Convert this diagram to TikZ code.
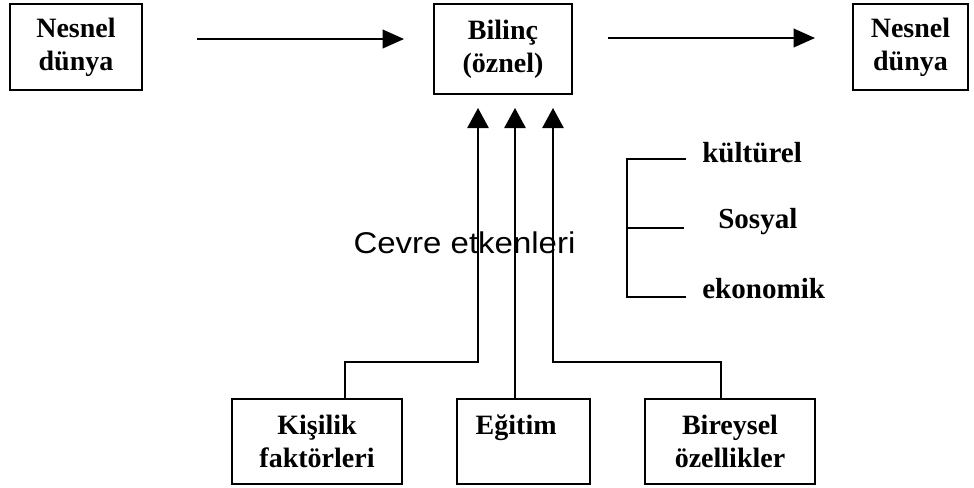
\documentclass[tikz,border=0pt]{standalone}
\usepackage{fontspec}
\setmainfont{Liberation Serif}
\newfontfamily\sansf{Liberation Sans}
\usetikzlibrary{arrows.meta}
\begin{document}
\begin{tikzpicture}[x=0.75pt,y=-0.75pt,
  box/.style={draw,line width=1.2pt,inner sep=0pt,align=center,
    font=\fontsize{21}{25}\selectfont\bfseries},
  lbl/.style={inner sep=0pt,font=\fontsize{21.8}{26}\selectfont\bfseries},
  ln/.style={line width=1.2pt},
  harr/.style={ln,-{Triangle[length=16pt,width=14pt]}},
  varr/.style={ln,-{Triangle[length=15pt,width=16pt]}}]
\useasboundingbox (0,0) rectangle (974,487);
% top boxes
\node[box,minimum width=132*0.75pt,minimum height=86*0.75pt] (L) at (76,47) {Nesnel\\dünya};
\node[box,minimum width=138*0.75pt,minimum height=90*0.75pt] (B) at (503,49) {Bilinç\\(öznel)};
\node[box,minimum width=115*0.75pt,minimum height=86*0.75pt] (R) at (910.5,47) {Nesnel\\dünya};
% bottom boxes
\node[box,minimum width=170*0.75pt,minimum height=85*0.75pt] (K) at (317,441.5) {Kişilik\\faktörleri};
\node[box,minimum width=133*0.75pt,minimum height=85*0.75pt] (E) at (523.5,441.5) {Eğitim\kern11pt\\\phantom{faktörleri}};
\node[box,minimum width=170*0.75pt,minimum height=85*0.75pt] (Bi) at (730,441.5) {Bireysel\\özellikler};
% horizontal arrows
\coordinate (a1s) at (197,39);
\coordinate (a1e) at (404,39);
\coordinate (a2s) at (608,38);
\coordinate (a2e) at (815,38);
\draw[harr] (a1s) -- (a1e);
\draw[harr] (a2s) -- (a2e);
% vertical arrows
\coordinate (t1) at (478,108);
\coordinate (t2) at (515,108);
\coordinate (t3) at (553,108);
\draw[varr] ([xshift=21pt]K.north) -- ++(0,-36) -| (t1);
\draw[varr] (E.north -| t2) -- (t2);
\draw[varr] ([xshift=-6.75pt]Bi.north) -- ++(0,-36) -| (t3);
% text
\node[inner sep=0pt,anchor=base,font=\sansf\fontsize{22.5}{27}\selectfont,xscale=1.1] (C) at (464.5,253) {Cevre etkenleri};
% bracket
\coordinate (b1) at (686,159);
\coordinate (b2) at (627,159);
\coordinate (b3) at (627,297);
\coordinate (b4) at (686,297);
\coordinate (b5) at (627,228);
\coordinate (b6) at (684,228);
\draw[ln] (b1) -- (b2) -- (b3) -- (b4);
\draw[ln] (b5) -- (b6);
\node[lbl,anchor=base west] (k) at (702,162) {kültürel};
\node[lbl,anchor=base west] (s) at (718,228) {Sosyal};
\node[lbl,anchor=base west] (e) at (702,298) {ekonomik};
\end{tikzpicture}
\end{document}
